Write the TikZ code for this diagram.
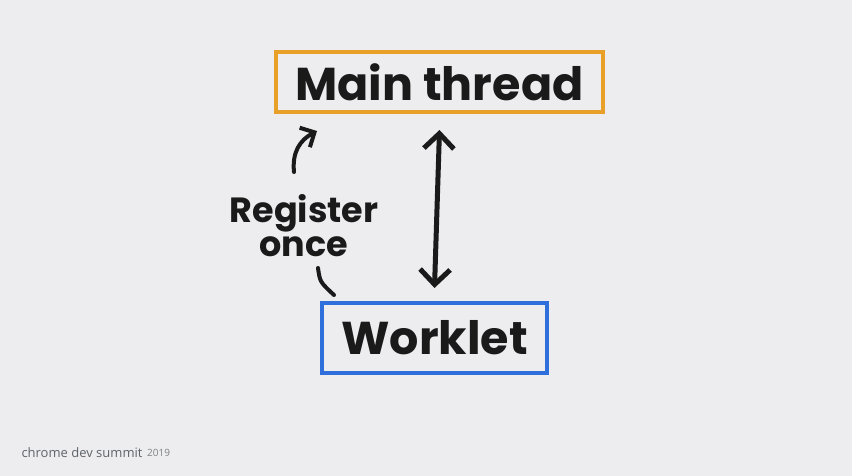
\documentclass[tikz,border=0pt]{standalone}
\usepackage{fontspec}
\setmainfont{Poppins}
\newfontfamily\footfont{Open Sans}
\usetikzlibrary{positioning}
\usetikzlibrary{arrows.meta, calc}
\definecolor{bg}{RGB}{237, 237, 240}
\definecolor{primary}{RGB}{232, 160, 40}
\definecolor{secondary}{RGB}{47, 111, 219}
\definecolor{ink}{RGB}{26, 26, 26}
\definecolor{footgray}{RGB}{95, 99, 104}

\begin{document}
\begin{tikzpicture}[
                x=1pt, y=-1pt,
                box/.style={rectangle, line width=4pt,
                    inner sep=0pt, text=ink,
                    font=\fontsize{46}{48}\selectfont\bfseries},
                line/.style={line width=5pt, color=ink, line cap=round},
                dbl/.style={line,
                    {Straight Barb[length=15pt, width=30pt, line width=5pt]}-{Straight Barb[length=15pt, width=30pt, line width=5pt]}},
                curl/.style={line, line width=4pt,
                    -{Straight Barb[length=11pt, width=22pt, line width=4pt]}}
                ]
                \fill[bg] (0,0) rectangle (852,476);
                \useasboundingbox (0,0) rectangle (852,476);
                \node[box, draw=primary, minimum width=327pt,
                    minimum height=60pt] (main) at (439.5,82) {Main thread};
                \node[box, draw=secondary, minimum width=225pt,
                    minimum height=70pt] (work) at (434.5,338) {Worklet};
                \node[text=ink, align=center,
                    font=\fontsize{35}{34}\selectfont\bfseries] (reg)
                    at (304,226) {Register\\once};
                \draw[dbl] ([yshift=-16pt]main.south) -- ([yshift=13pt]work.north);
                % curved arrow, broken by the label
                \coordinate (up1) at (294,172);
                \coordinate (up2) at (317,131);
                \coordinate (lo1) at (318,268);
                \coordinate (lo2) at (334,295);
                \draw[curl] (up1) .. controls (292,152) and (300,140) .. (up2);
                \draw[line, line width=4pt] (lo1) .. controls (320,282) .. (lo2);
                \node[anchor=west, text=footgray, font=\footfont\fontsize{13}{15}\selectfont]
                    (cds) at (18,453) {chrome dev summit};
                \node[right=1pt of cds, text=footgray!80, inner sep=0pt,
                    font=\footfont\fontsize{10}{12}\selectfont] (year) {2019};
            \end{tikzpicture}
\end{document}
